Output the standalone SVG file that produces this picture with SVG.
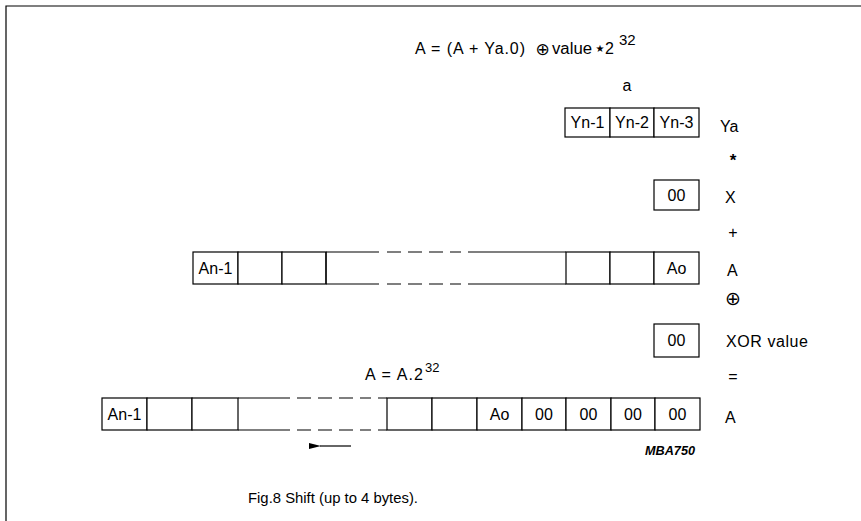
<svg xmlns="http://www.w3.org/2000/svg" width="861" height="521" viewBox="0 0 861 521">
<style>
text{font-family:"Liberation Sans",Arial,sans-serif;fill:#000;font-size:16px}
.c{text-anchor:middle}
.cell{fill:#fff;stroke:#000;stroke-width:1.2}
.ln{stroke:#000;stroke-width:1.2;fill:none}
.dash{stroke:#000;stroke-width:1.2;fill:none;stroke-dasharray:14 7}
.oplus{font-family:"DejaVu Sans",sans-serif;font-size:17px}
.sup{font-size:15px}
</style>
<defs>
<marker id="ah" markerWidth="12" markerHeight="8" refX="1" refY="4" orient="auto" markerUnits="userSpaceOnUse">
<path d="M12,1 L0,4 L12,7 Z" fill="#000"/>
</marker>
</defs>
<rect width="861" height="521" fill="#fff"/>
<path class="ln" d="M6,521 V6 H861" stroke-width="2"/>

<g id="eq1">
<text x="415" y="54" textLength="110" lengthAdjust="spacing">A = (A + Ya.0)</text>
<text x="542.5" y="55" class="c oplus">⊕</text>
<text x="552" y="54" textLength="40" lengthAdjust="spacingAndGlyphs">value</text>
<text x="600" y="52" class="c" style="font-family:'DejaVu Sans',sans-serif;font-size:10px">★</text>
<text x="605" y="54">2</text>
<text x="619" y="45" class="sup">32</text>
</g>
<text id="lbl-a" x="627" y="91" class="c">a</text>

<g id="ya">
<rect class="cell" x="565" y="108" width="45" height="29"/>
<rect class="cell" x="610" y="108" width="44" height="29"/>
<rect class="cell" x="654" y="108" width="45" height="29"/>
<text x="587.5" y="128" class="c">Yn-1</text>
<text x="632" y="128" class="c">Yn-2</text>
<text x="676.5" y="128" class="c">Yn-3</text>
</g>
<text id="lbl-ya" x="720" y="132">Ya</text>
<text id="op-star" x="733" y="166" class="c" style="font-size:17px;font-weight:bold">*</text>

<g id="x">
<rect class="cell" x="654" y="180" width="45" height="30"/>
<text x="676.5" y="201" class="c">00</text>
</g>
<text id="lbl-x" x="725" y="203">X</text>
<text id="op-plus" x="733" y="238" class="c">+</text>

<g id="a-reg">
<rect class="cell" x="193" y="252" width="45" height="32"/>
<rect class="cell" x="238" y="252" width="44" height="32"/>
<rect class="cell" x="282" y="252" width="44" height="32"/>
<path class="ln" d="M326,252 V284 M326,252 H379 M326,284 H379 M468,252 H566 M468,284 H566"/>
<path class="dash" d="M387,252 H461 M387,284 H461"/>
<rect class="cell" x="566" y="252" width="44" height="32"/>
<rect class="cell" x="610" y="252" width="44" height="32"/>
<rect class="cell" x="654" y="252" width="45" height="32"/>
<text x="215.5" y="274" class="c">An-1</text>
<text x="676.5" y="274" class="c">Ao</text>
</g>
<text id="lbl-a2" x="727" y="276">A</text>
<text id="op-xor" x="733" y="305" class="c oplus" style="font-size:19px">⊕</text>

<g id="xor">
<rect class="cell" x="654" y="324" width="45" height="33"/>
<text x="676.5" y="346" class="c">00</text>
</g>
<text id="lbl-xor" x="726" y="347" textLength="82" lengthAdjust="spacing">XOR value</text>
<text id="op-eq" x="733" y="382" class="c">=</text>

<g id="eq2">
<text x="365" y="380" textLength="58" lengthAdjust="spacing">A = A.2</text>
<text x="425" y="372" style="font-size:13px">32</text>
</g>

<g id="a-res">
<rect class="cell" x="102" y="398" width="45" height="32"/>
<rect class="cell" x="147" y="398" width="45" height="32"/>
<rect class="cell" x="192" y="398" width="46" height="32"/>
<path class="ln" d="M238,398 H290 M238,430 H290 M378,398 H387 M378,430 H387"/>
<path class="dash" d="M297,398 H371 M297,430 H371"/>
<rect class="cell" x="387" y="398" width="45" height="32"/>
<rect class="cell" x="432" y="398" width="45" height="32"/>
<rect class="cell" x="477" y="398" width="45" height="32"/>
<rect class="cell" x="522" y="398" width="44" height="32"/>
<rect class="cell" x="566" y="398" width="45" height="32"/>
<rect class="cell" x="611" y="398" width="44" height="32"/>
<rect class="cell" x="655" y="398" width="45" height="32"/>
<text x="124.5" y="420" class="c">An-1</text>
<text x="499.5" y="420" class="c">Ao</text>
<text x="544" y="420" class="c">00</text>
<text x="588.5" y="420" class="c">00</text>
<text x="633" y="420" class="c">00</text>
<text x="677.5" y="420" class="c">00</text>
</g>
<text id="lbl-a3" x="725" y="423">A</text>

<g id="connectors">
<line class="ln" x1="351" y1="446" x2="320" y2="446" stroke-width="1.6" marker-end="url(#ah)"/>
</g>

<text id="tag" x="645" y="455" style="font-size:13px;font-style:italic;font-weight:bold" textLength="50" lengthAdjust="spacingAndGlyphs">MBA750</text>
<text id="caption" x="248" y="503" style="font-size:15px" textLength="170" lengthAdjust="spacingAndGlyphs">Fig.8  Shift (up to 4 bytes).</text>
</svg>
